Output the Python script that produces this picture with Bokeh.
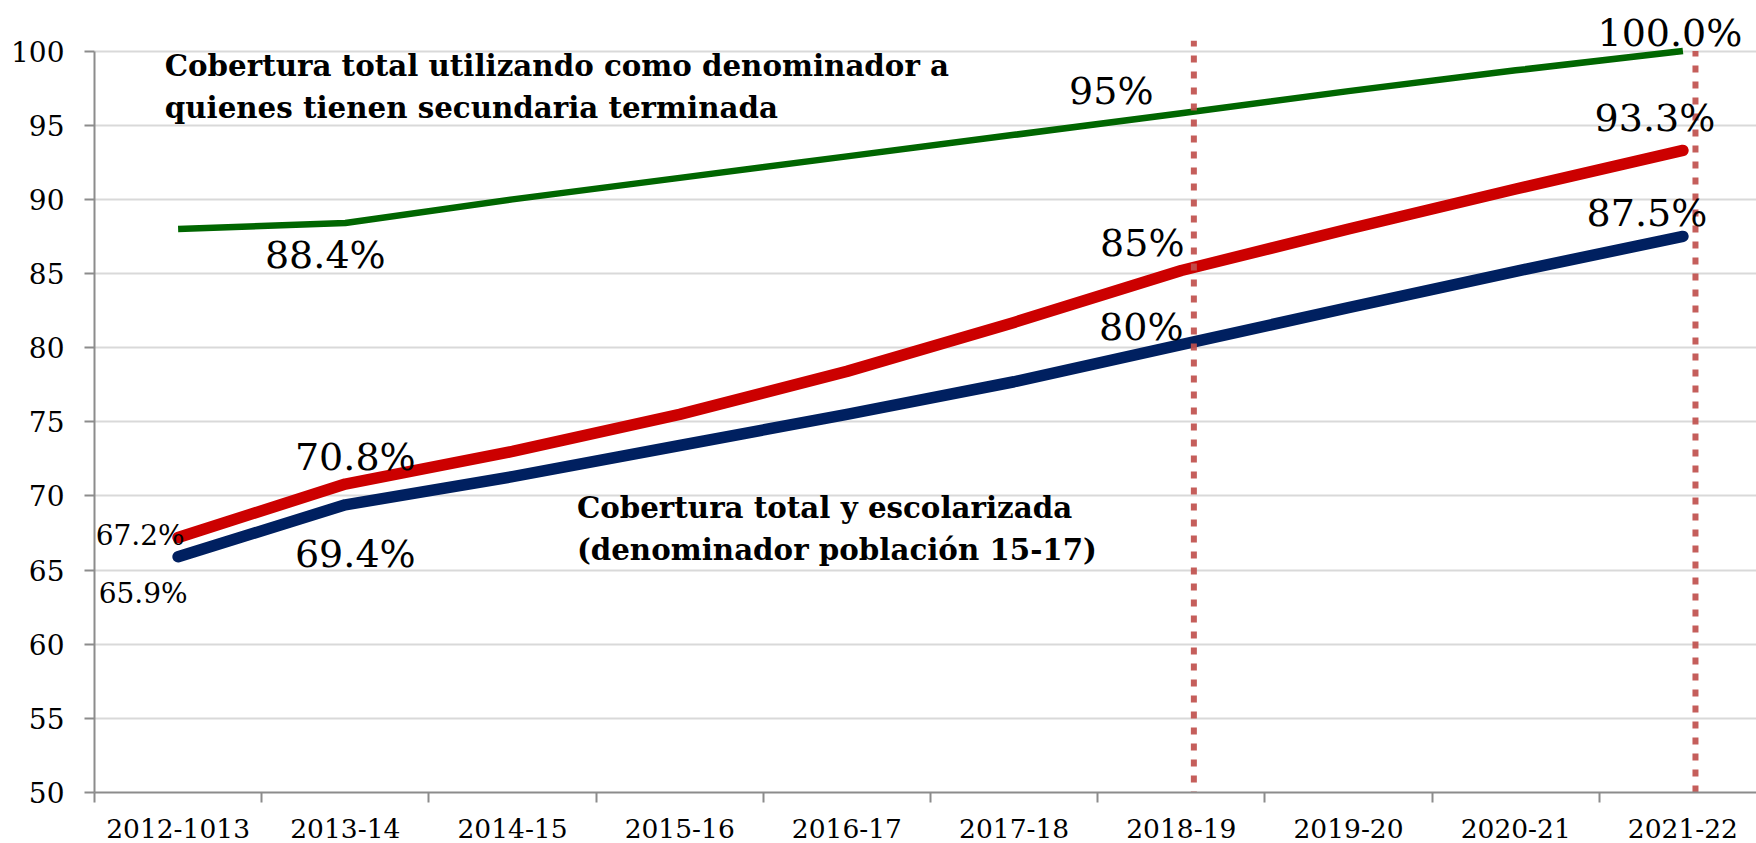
from bokeh.plotting import figure
from bokeh.models import Range1d, FixedTicker, Label, ColumnDataSource
from bokeh.embed import file_html
from bokeh.resources import INLINE
from bokeh.core.properties import value

# ---------------- data ----------------
periods = ["2012-1013", "2013-14", "2014-15", "2015-16", "2016-17",
           "2017-18", "2018-19", "2019-20", "2020-21", "2021-22"]
cobertura_secundaria = [88.0, 88.4, 90.0, 91.45, 92.9, 94.35, 95.8, 97.3, 98.7, 100.0]  # green
cobertura_total = [67.2, 70.8, 73.0, 75.5, 78.4, 81.7, 85.2, 88.0, 90.7, 93.3]           # red
cobertura_escolarizada = [65.9, 69.4, 71.3, 73.4, 75.5, 77.7, 80.2, 82.7, 85.15, 87.5]   # navy
y_ticks = [50, 55, 60, 65, 70, 75, 80, 85, 90, 95, 100]
marked_periods = ["2018-19", "2021-22"]

label_texts = ["67.2%", "65.9%", "69.4%", "70.8%", "88.4%", "95%", "85%", "80%",
               "100.0%", "93.3%", "87.5%"]
label_series = ["total", "escolarizada", "escolarizada", "total", "secundaria",
                "secundaria", "total", "escolarizada", "secundaria", "total", "escolarizada"]
label_periods = ["2012-1013", "2012-1013", "2013-14", "2013-14", "2013-14",
                 "2018-19", "2018-19", "2018-19", "2021-22", "2021-22", "2021-22"]

ann_top = "Cobertura total utilizando como denominador a\nquienes tienen secundaria terminada"
ann_mid = "Cobertura total y escolarizada\n(denominador población 15-17)"

# ---------------- styling ----------------
FONT = "DejaVu Serif"
label_dx = [-38, -35, 10, 10, -20, -70, -39, -40, -13, -28, -36]
label_dy = [-2, 37, 49, -27, 32, -22, -28, -18, -18, -32, -23]
label_size = ["28px", "28px", "38px", "38px", "38px", "38px", "38px", "38px", "38px", "38px", "38px"]

series = {
    "secundaria": cobertura_secundaria,
    "total": cobertura_total,
    "escolarizada": cobertura_escolarizada,
}

xpos = [i + 0.5 for i in range(len(periods))]
xidx = {p: i + 0.5 for i, p in enumerate(periods)}

p = figure(width=1756, height=843,
           x_range=Range1d(0, 9.940), y_range=Range1d(50, 103.41),
           output_backend="svg", toolbar_location=None,
           min_border_left=94, min_border_right=0, min_border_top=0, min_border_bottom=51)
p.outline_line_color = None
p.background_fill_color = "white"
p.border_fill_color = "white"

# grid
p.xgrid.visible = False
p.ygrid.ticker = FixedTicker(ticks=y_ticks)
p.ygrid.grid_line_color = "#d9d9d9"
p.ygrid.grid_line_width = 2

# y axis
p.yaxis.ticker = FixedTicker(ticks=y_ticks)
p.yaxis.bounds = (50, 100)
p.yaxis.axis_line_color = "#8c8c8c"
p.yaxis.axis_line_width = 2
p.yaxis.major_tick_line_color = "#8c8c8c"
p.yaxis.major_tick_line_width = 2
p.yaxis.major_tick_out = 10
p.yaxis.major_tick_in = 0
p.yaxis.minor_tick_line_color = None
p.yaxis.major_label_text_font = FONT
p.yaxis.major_label_text_font_size = "28px"
p.yaxis.major_label_text_color = "black"
p.yaxis.major_label_standoff = 20

# x axis
p.xaxis.ticker = FixedTicker(ticks=xpos, minor_ticks=list(range(len(periods) + 1)))
p.xaxis.major_label_overrides = {x: lab for x, lab in zip(xpos, periods)}
p.xaxis.axis_line_color = "#8c8c8c"
p.xaxis.axis_line_width = 2
p.xaxis.major_tick_line_color = None
p.xaxis.minor_tick_line_color = "#8c8c8c"
p.xaxis.minor_tick_line_width = 2
p.xaxis.minor_tick_out = 10
p.xaxis.minor_tick_in = 0
p.xaxis.major_label_text_font = FONT
p.xaxis.major_label_text_font_size = "26.5px"
p.xaxis.major_label_text_color = "black"
p.xaxis.major_label_text_line_height = 0.8
p.xaxis.major_label_standoff = 16

# lines
p.line(xpos, cobertura_secundaria, line_color="#006600", line_width=6.5, line_join="round")
p.line(xpos, cobertura_total, line_color="#cc0000", line_width=11.5, line_cap="round", line_join="round")
p.line(xpos, cobertura_escolarizada, line_color="#002060", line_width=11.5, line_cap="round", line_join="round")

# dotted markers
mx = [xidx[m] + 0.075 for m in marked_periods]
p.segment(x0=mx, x1=mx, y0=[49.6, 50.0], y1=[100.7, 100.0],
          line_color="#c0504d", line_width=6, line_dash="7 9", line_alpha=0.92)

# data labels
src = ColumnDataSource(dict(
    x=[xidx[pp] for pp in label_periods],
    y=[series[s][periods.index(pp)] for s, pp in zip(label_series, label_periods)],
    text=label_texts, dx=label_dx, dy=label_dy, fs=label_size,
))
p.text(x="x", y="y", text="text", x_offset="dx", y_offset="dy", source=src,
       text_font=value(FONT), text_font_size="fs", text_align="center",
       text_baseline="middle", text_color="black")

# annotations
p.add_layout(Label(x=0.42, y=100.2, text=ann_top, text_font=FONT, text_font_style="bold",
                   text_font_size="29.3px", text_baseline="top", text_align="left",
                   text_line_height=1.2, text_color="black"))
p.add_layout(Label(x=2.885, y=70.43, text=ann_mid, text_font=FONT, text_font_style="bold",
                   text_font_size="29.3px", text_baseline="top", text_align="left",
                   text_line_height=1.2, text_color="black"))

open("out.html", "w").write(file_html(p, INLINE))
